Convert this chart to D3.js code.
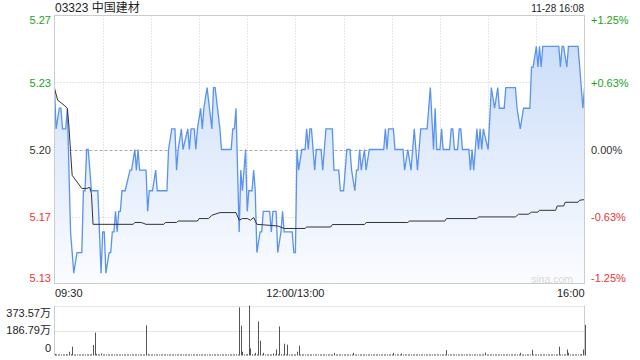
<!DOCTYPE html>
<html><head><meta charset="utf-8">
<script src="https://cdn.jsdelivr.net/npm/d3@7"></script>
<style>body{margin:0;background:#fff}svg{display:block}text{font-family:Arial,"Liberation Sans","Noto Sans CJK SC",sans-serif}</style>
</head><body><svg id="c" width="640" height="360"></svg>
<script>
const stockTitle = "03323 中国建材";
const stampText = "11-28 16:08";
const prevClose = 5.20;
const pctSteps = [0.0125, 0.00625, 0, -0.00625, -0.0125];
const priceTickLabels = ["5.27","5.23","5.20","5.17","5.13"];
const pctTickLabels = ["+1.25%","+0.63%","0.00%","-0.63%","-1.25%"];
const timeTickMinutes = [0, 150, 330];
const timeTickLabels = ["09:30","12:00/13:00","16:00"];
const volTickValues = [373.57, 186.79, 0];
const volTickLabels = ["373.57万","186.79万","0"];
const volMax = 373.57;
// [trading minute since 09:30 (afternoon continues after 150), price]
const pricePoints = [
[0,5.23],[1,5.21],[3,5.22],[4,5.22],[5,5.21],[7,5.21],[8,5.22],[10,5.16],[12,5.14],[14,5.15],[17,5.15],[18,5.18],[19,5.18],[20,5.20],[21,5.20],[22,5.19],[23,5.18],[27,5.18],[29,5.14],[30,5.16],[31,5.16],[32,5.14],[34,5.15],[35,5.15],[36,5.16],[37,5.16],[38,5.17],[39,5.16],[40,5.17],[41,5.17],[42,5.18],[44,5.18],[47,5.19],[48,5.19],[50,5.20],[51,5.19],[52,5.20],[53,5.19],[57,5.19],[58,5.17],[59,5.18],[61,5.18],[63,5.19],[64,5.18],[70,5.18],[71,5.20],[73,5.21],[75,5.21],[76,5.19],[77,5.20],[79,5.21],[80,5.20],[83,5.21],[84,5.20],[85,5.21],[87,5.21],[88,5.20],[89,5.21],[91,5.22],[92,5.21],[93,5.22],[95,5.23],[98,5.21],[99,5.23],[100,5.23],[103,5.21],[104,5.20],[110,5.20],[111,5.21],[112,5.21],[113,5.22],[115,5.16],[116,5.19],[117,5.18],[118,5.19],[119,5.20],[120,5.17],[121,5.18],[123,5.18],[124,5.19],[125,5.18],[126,5.15],[128,5.16],[129,5.16],[130,5.17],[134,5.17],[135,5.16],[136,5.17],[138,5.17],[139,5.15],[141,5.16],[142,5.17],[143,5.16],[148,5.16],[149,5.15],[150,5.15],[151,5.20],[152,5.19],[154,5.20],[156,5.20],[157,5.21],[158,5.20],[159,5.21],[160,5.21],[161,5.20],[162,5.19],[163,5.20],[166,5.20],[167,5.19],[168,5.20],[169,5.21],[173,5.21],[174,5.19],[177,5.19],[178,5.18],[180,5.18],[182,5.20],[184,5.20],[185,5.19],[187,5.18],[188,5.19],[189,5.19],[190,5.20],[191,5.19],[193,5.20],[194,5.19],[196,5.20],[205,5.20],[206,5.21],[207,5.20],[208,5.21],[211,5.21],[212,5.20],[217,5.20],[218,5.19],[220,5.20],[222,5.19],[224,5.21],[226,5.19],[228,5.21],[232,5.21],[234,5.23],[236,5.20],[237,5.22],[238,5.20],[240,5.20],[241,5.21],[242,5.20],[246,5.20],[247,5.21],[248,5.21],[249,5.20],[251,5.20],[252,5.21],[253,5.21],[254,5.20],[258,5.20],[259,5.19],[260,5.20],[261,5.19],[262,5.20],[263,5.21],[264,5.20],[265,5.21],[266,5.20],[267,5.21],[270,5.20],[272,5.23],[274,5.22],[276,5.23],[277,5.22],[280,5.22],[281,5.23],[287,5.23],[288,5.22],[290,5.21],[292,5.22],[296,5.22],[297,5.24],[298,5.24],[300,5.25],[301,5.24],[302,5.25],[303,5.24],[304,5.25],[314,5.25],[315,5.24],[316,5.25],[317,5.25],[319,5.24],[320,5.25],[326,5.25],[329,5.22],[330,5.23]
];
const avgPoints = [
[0,5.2296],[2,5.2239],[6,5.2215],[8,5.2199],[9,5.211],[10,5.199],[11,5.1875],[14,5.1843],[17,5.1811],[20,5.1811],[22,5.1816],[23,5.1786],[24,5.1637],[49,5.1637],[50,5.1646],[54,5.1646],[57,5.1637],[68,5.1637],[69,5.1646],[76,5.1646],[77,5.1653],[89,5.1653],[90,5.1665],[96,5.1665],[98,5.1681],[103,5.1694],[113,5.1694],[115,5.1657],[117,5.1665],[120,5.1665],[122,5.1657],[124,5.1670],[126,5.1637],[139,5.1629],[143,5.1617],[156,5.1617],[157,5.1624],[172,5.1624],[173,5.1636],[193,5.1636],[194,5.1646],[220,5.1646],[221,5.1653],[243,5.1653],[244,5.1665],[263,5.1665],[264,5.1673],[287,5.1673],[289,5.1686],[295,5.1686],[297,5.1696],[301,5.1696],[302,5.1705],[312,5.1705],[313,5.1726],[317,5.1726],[318,5.1744],[326,5.1744],[327,5.1754],[330,5.1757]
];
// volume (万) per trading minute, index 0..330
const volumes = [
12,8,5,6,4,7,5,9,6,28,
10,66,6,5,8,4,6,5,7,4,
6,8,5,9,78,171,12,6,4,15,
7,5,6,4,8,5,6,3,7,5,
4,6,5,8,4,5,7,3,6,5,
8,4,6,5,3,7,5,225,10,6,
4,5,7,3,6,4,5,8,4,6,
5,3,7,4,6,5,4,8,3,5,
6,4,5,7,3,6,4,5,8,4,
5,6,3,7,4,5,6,4,8,5,
3,6,4,5,7,4,6,3,5,8,
4,6,5,9,7,360,222,28,6,8,
10,373,53,10,6,20,8,255,111,7,
20,6,5,8,4,6,15,5,45,9,
217,10,6,88,7,81,5,4,6,5,
8,28,73,6,5,7,4,6,5,8,
4,6,5,3,7,4,6,5,8,4,
5,6,4,7,20,5,6,4,8,5,
3,6,4,5,7,4,20,5,6,4,
8,5,3,6,4,5,7,4,6,5,
4,8,5,3,6,4,5,7,4,6,
5,20,4,6,5,8,15,4,6,5,
3,7,4,6,5,4,8,5,6,4,
5,7,4,6,3,5,8,4,6,5,
4,6,5,7,40,5,6,4,8,5,
6,4,5,7,3,6,4,5,8,4,
5,6,4,7,5,6,4,8,22,5,
6,4,5,7,3,6,4,5,8,4,
5,6,4,7,5,8,4,6,5,7,
20,5,6,4,8,5,6,43,7,5,
6,4,8,5,7,4,6,5,8,6,
4,7,5,6,66,8,5,7,6,45,
20,6,5,8,4,7,6,8,10,45,
229
];

const svg = d3.select("#c");
const L = 54.5, R = 584.5, T = 15.5, B = 283.5;
const VT = 305.5, VB = 355.5;
const green = "#1aa31a", red = "#ee3333", dark = "#333";

const x = d3.scaleLinear().domain([0, 330]).range([L, R]);
const y = d3.scaleLinear().domain([prevClose*(1-0.0125), prevClose*(1+0.0125)]).range([B, T]);
const yv = d3.scaleLinear().domain([0, volMax]).range([VB, VT]);

const defs = svg.append("defs");
const grad = defs.append("linearGradient").attr("id","g").attr("x1",0).attr("y1",0).attr("x2",0).attr("y2",1)
  .attr("gradientUnits","userSpaceOnUse").attr("x1",0).attr("x2",0).attr("y1",T).attr("y2",B);
grad.append("stop").attr("offset",0).attr("stop-color","#c6daf8");
grad.append("stop").attr("offset",1).attr("stop-color","#fbfcff");

// vertical grid
const vg = svg.append("g");
d3.range(30, 330, 30).forEach(m => {
  vg.append("line").attr("x1", Math.round(x(m))+0.5).attr("x2", Math.round(x(m))+0.5)
    .attr("y1", T).attr("y2", B).attr("stroke","#cccccc").attr("stroke-dasharray","1,2");
});
// horizontal grid
pctSteps.slice(1,4).forEach((p,i) => {
  const yy = Math.round(y(prevClose*(1+p)))+0.5;
  svg.append("line").attr("x1",L).attr("x2",R).attr("y1",yy).attr("y2",yy)
    .attr("stroke", p===0 ? "#aaaaaa" : "#cccccc").attr("stroke-dasharray", p===0 ? "3,2" : "1,2");
});

// area + lines
const area = d3.area().x(d=>x(d[0])).y0(B).y1(d=>y(d[1]));
svg.append("path").datum(pricePoints).attr("d", area).attr("fill","url(#g)");
const line = d3.line().x(d=>x(d[0])).y(d=>y(d[1]));
svg.append("path").datum(pricePoints).attr("d", line).attr("fill","none").attr("stroke","#5a93ee").attr("stroke-width",1.3);
svg.append("path").datum(avgPoints).attr("d", line).attr("fill","none").attr("stroke","#333").attr("stroke-width",1);

// border
svg.append("rect").attr("x",L).attr("y",T).attr("width",R-L).attr("height",B-T).attr("fill","none").attr("stroke","#cccccc");

// watermark
svg.append("text").attr("x",573).attr("y",283).attr("text-anchor","end").attr("font-size",10.5).attr("fill","#d8d8d8").text("sina.com");

// price labels
pctSteps.forEach((p,i) => {
  const yy = y(prevClose*(1+p));
  const col = p>0 ? green : (p<0 ? red : dark);
  let base = yy + 4;
  if (i===0) base = yy + 8.5;
  if (i===4) base = yy - 1.5;
  svg.append("text").attr("x",51).attr("y",base).attr("text-anchor","end").attr("font-size",11).attr("fill",col).text(priceTickLabels[i]);
  svg.append("text").attr("x",591).attr("y",base).attr("text-anchor","start").attr("font-size",11).attr("fill",col).text(pctTickLabels[i]);
});

// title
svg.append("text").attr("x",55).attr("y",12).attr("font-size",12).attr("fill","#222").text(stockTitle);
svg.append("text").attr("x",584).attr("y",12).attr("text-anchor","end").attr("font-size",10).attr("fill","#222").text(stampText);

// time labels
timeTickMinutes.forEach((m,i) => {
  const anchor = i===0 ? "start" : (i===timeTickMinutes.length-1 ? "end" : "middle");
  svg.append("text").attr("x", i===0 ? x(m)+0.5 : x(m)).attr("y",297).attr("text-anchor",anchor).attr("font-size",11).attr("fill","#222").text(timeTickLabels[i]);
});

// volume panel
[volMax, volMax/2].forEach(v => {
  const yy = Math.round(yv(v))+0.5;
  svg.append("line").attr("x1",L).attr("x2",R).attr("y1",yy).attr("y2",yy).attr("stroke","#cccccc").attr("stroke-dasharray","1,1");
});
svg.append("line").attr("x1",L).attr("x2",L).attr("y1",VT).attr("y2",VB).attr("stroke","#cccccc");
svg.append("line").attr("x1",R).attr("x2",R).attr("y1",VT).attr("y2",VB).attr("stroke","#cccccc");
svg.append("g").selectAll("rect").data(volumes).join("rect")
  .attr("x",(d,i)=>Math.round(x(i))).attr("width",1)
  .attr("y",d=>Math.min(yv(d), VB-1)).attr("height",d=>Math.max(VB-yv(d),1))
  .attr("fill","#555");
volTickValues.forEach((v,i) => {
  let base = yv(v) + 4;
  if (i===0) base = yv(v) + 11;
  if (i===volTickValues.length-1) base = yv(v) - 4;
  svg.append("text").attr("x",51).attr("y",base).attr("text-anchor","end").attr("font-size",11).attr("fill","#222").text(volTickLabels[i]);
});
</script></body></html>
